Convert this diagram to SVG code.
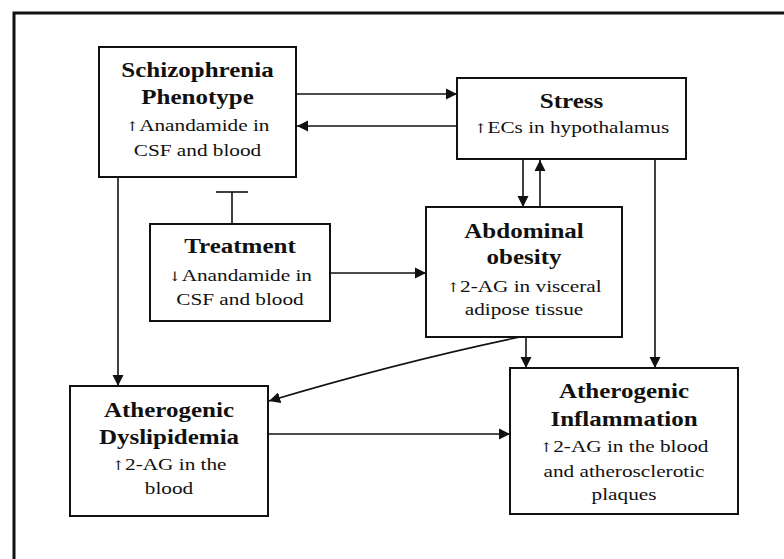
<svg xmlns="http://www.w3.org/2000/svg" width="784" height="559" viewBox="0 0 784 559">
<style>
.box{fill:#fff;stroke:#111;stroke-width:2}
.t{font-family:"Liberation Serif","Times New Roman",serif;font-weight:bold;font-size:20px;fill:#111;text-anchor:middle}
.b{font-family:"Liberation Serif","Times New Roman",serif;font-size:17px;fill:#111;text-anchor:middle}
.ar{font-family:"DejaVu Serif","DejaVu Sans",serif;font-size:13px;fill:#111}
.c{fill:none;stroke:#111;stroke-width:1.6}
</style>
<defs>
<marker id="ah" viewBox="0 0 10 10" refX="10" refY="5" markerWidth="7" markerHeight="7" markerUnits="strokeWidth" orient="auto">
<path d="M0,0 L10,5 L0,10 z" fill="#111"/>
</marker>
</defs>
<rect width="784" height="559" fill="#fff"/>
<path d="M14 559 V13 H784" fill="none" stroke="#111" stroke-width="3"/>
<g id="connectors">
<line class="c" x1="296" y1="94" x2="457" y2="94" marker-end="url(#ah)"/>
<line class="c" x1="457" y1="126" x2="297" y2="126" marker-end="url(#ah)"/>
<line class="c" x1="232" y1="224" x2="232" y2="192"/>
<line class="c" x1="216" y1="192" x2="248" y2="192" stroke-width="2"/>
<line class="c" x1="523" y1="159" x2="523" y2="207" marker-end="url(#ah)"/>
<line class="c" x1="540" y1="207" x2="540" y2="160" marker-end="url(#ah)"/>
<line class="c" x1="330" y1="273" x2="426" y2="273" marker-end="url(#ah)"/>
<line class="c" x1="118" y1="177" x2="118" y2="386" marker-end="url(#ah)"/>
<line class="c" x1="655" y1="159" x2="655" y2="368" marker-end="url(#ah)"/>
<line class="c" x1="526" y1="337" x2="526" y2="368" marker-end="url(#ah)"/>
<path class="c" d="M520 337 Q400 362 269 401" marker-end="url(#ah)"/>
<line class="c" x1="268" y1="434" x2="510" y2="434" marker-end="url(#ah)"/>
</g>
<g id="schizophrenia">
<rect class="box" x="99" y="47" width="197" height="130"/>
<text class="t" transform="translate(197.5 0) scale(1.25 1)" y="77">Schizophrenia</text>
<text class="t" transform="translate(197.5 0) scale(1.25 1)" y="104">Phenotype</text>
<text class="b" transform="translate(197.5 0) scale(1.25 1)" y="131"><tspan class="ar">↑</tspan>Anandamide in</text>
<text class="b" transform="translate(197.5 0) scale(1.25 1)" y="156">CSF and blood</text>
</g>
<g id="stress">
<rect class="box" x="457" y="78" width="229" height="81"/>
<text class="t" transform="translate(571.5 0) scale(1.25 1)" y="108">Stress</text>
<text class="b" transform="translate(571.5 0) scale(1.25 1)" y="133"><tspan class="ar">↑</tspan>ECs in hypothalamus</text>
</g>
<g id="treatment">
<rect class="box" x="150" y="224" width="180" height="97"/>
<text class="t" transform="translate(240 0) scale(1.25 1)" y="253">Treatment</text>
<text class="b" transform="translate(240 0) scale(1.25 1)" y="281"><tspan class="ar">↓</tspan>Anandamide in</text>
<text class="b" transform="translate(240 0) scale(1.25 1)" y="305">CSF and blood</text>
</g>
<g id="abdominal">
<rect class="box" x="426" y="207" width="196" height="130"/>
<text class="t" transform="translate(524 0) scale(1.25 1)" y="238">Abdominal</text>
<text class="t" transform="translate(524 0) scale(1.25 1)" y="264">obesity</text>
<text class="b" transform="translate(524 0) scale(1.25 1)" y="292"><tspan class="ar">↑</tspan>2-AG in visceral</text>
<text class="b" transform="translate(524 0) scale(1.25 1)" y="315">adipose tissue</text>
</g>
<g id="dyslipidemia">
<rect class="box" x="70" y="386" width="198" height="130"/>
<text class="t" transform="translate(169 0) scale(1.25 1)" y="417">Atherogenic</text>
<text class="t" transform="translate(169 0) scale(1.25 1)" y="444">Dyslipidemia</text>
<text class="b" transform="translate(169 0) scale(1.25 1)" y="470"><tspan class="ar">↑</tspan>2-AG in the</text>
<text class="b" transform="translate(169 0) scale(1.25 1)" y="494">blood</text>
</g>
<g id="inflammation">
<rect class="box" x="510" y="368" width="228" height="146"/>
<text class="t" transform="translate(624 0) scale(1.25 1)" y="398">Atherogenic</text>
<text class="t" transform="translate(624 0) scale(1.25 1)" y="426">Inflammation</text>
<text class="b" transform="translate(624 0) scale(1.25 1)" y="452"><tspan class="ar">↑</tspan>2-AG in the blood</text>
<text class="b" transform="translate(624 0) scale(1.25 1)" y="477">and atherosclerotic</text>
<text class="b" transform="translate(624 0) scale(1.25 1)" y="500">plaques</text>
</g>
</svg>
